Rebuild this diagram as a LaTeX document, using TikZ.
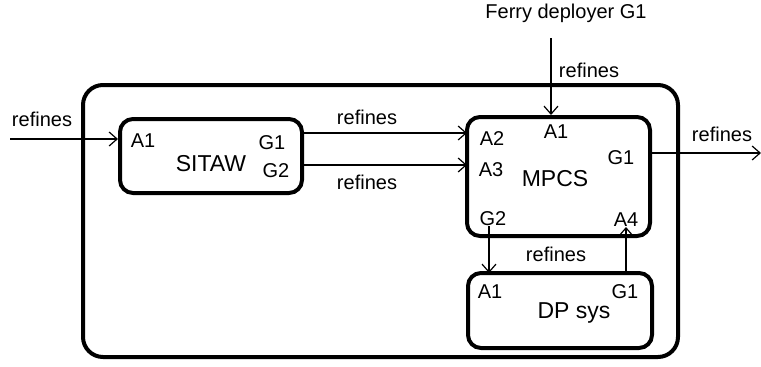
\documentclass[tikz,border=0pt]{standalone}
\usepackage{fontspec}
\setmainfont{Liberation Sans}
\usetikzlibrary{arrows.meta}
\begin{document}
\begin{tikzpicture}[x=1pt,y=-1pt,
  box/.style={draw,line width=4pt,rounded corners=13pt},
  outer/.style={draw,line width=4pt,rounded corners=20pt},
  conn/.style={line width=1.2pt,-{Straight Barb[length=8pt,width=14pt,line width=1.2pt]}},
  txt/.style={font=\fontsize{23}{25}\selectfont,inner sep=0pt},
  lbl/.style={font=\fontsize{20}{22}\selectfont,inner sep=0pt}]
\useasboundingbox (0,0) rectangle (761,367);
\draw[outer] (83,85) rectangle (678,357);
\node[box,minimum width=182pt,minimum height=74pt,inner sep=0pt] (sitaw) at (211,156) {};
\node[box,minimum width=183pt,minimum height=119pt,inner sep=0pt] (mpcs) at (558.5,176.5) {};
\node[box,minimum width=184pt,minimum height=75pt,inner sep=0pt] (dp) at (560,310.5) {};
% SITAW labels
\node[lbl] (sa1) at (143,141) {A1};
\node[txt] (sname) at (211,164) {SITAW};
\node[lbl] (sg1) at (272,143) {G1};
\node[lbl] (sg2) at (276,171) {G2};
% MPCS labels
\node[lbl] (ma2) at (492,139) {A2};
\node[lbl] (ma1) at (556,132) {A1};
\node[lbl] (ma3) at (491,170) {A3};
\node[txt] (mname) at (555,179) {MPCS};
\node[lbl] (mg1) at (621,158) {G1};
\node[lbl] (mg2) at (493,219) {G2};
\node[lbl] (ma4) at (626,220) {A4};
% DP labels
\node[lbl] (da1) at (490,292) {A1};
\node[lbl] (dg1) at (625,292) {G1};
\node[txt] (dname) at (574,313) {DP sys};
% external
\node[lbl] (ferry) at (566,13) {Ferry deployer G1};
\coordinate (fstart) at (551,38);
\coordinate (lstart) at (10,139);
\coordinate (rend) at (761,153);
% connectors
\draw[conn] (lstart) -- (lstart -| sitaw.west);
\node[lbl] at (42,119) {refines};
\draw[conn] (302,133) -- (467,133);
\node[lbl] at (367,117) {refines};
\draw[conn] (302,165) -- (467,165);
\node[lbl] at (367,182) {refines};
\draw[conn] (fstart) -- (fstart |- mpcs.north);
\node[lbl] at (589,70) {refines};
\draw[conn] (mpcs.east |- rend) -- (rend);
\node[lbl] at (722,134) {refines};
\draw[conn] (489,226) -- (489,273);
\draw[conn] (626,273) -- (626,227);
\node[lbl] at (556,254) {refines};
\end{tikzpicture}
\end{document}
